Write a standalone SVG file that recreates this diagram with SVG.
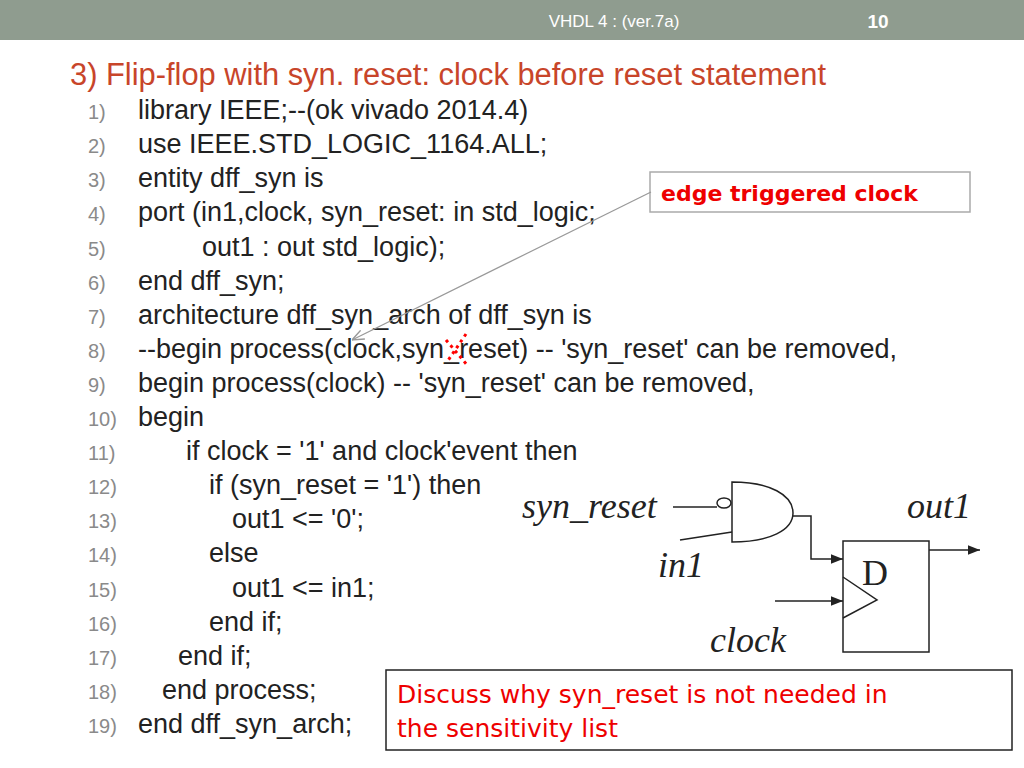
<svg xmlns="http://www.w3.org/2000/svg" width="1024" height="768" viewBox="0 0 1024 768">
<style>
.n{font-family:"Liberation Sans",Arial,sans-serif;font-size:20px;fill:#8a8a8a}
.c{font-family:"Liberation Sans Narrow","Liberation Sans",Arial,sans-serif;font-size:27px;fill:#222}
.t{font-family:"Liberation Serif","Times New Roman",serif;font-style:italic;font-size:36px;fill:#222}
.w{stroke:#222;stroke-width:1.5;fill:none}
</style>
<defs><marker id="ah" viewBox="0 0 10 10" refX="10" refY="5" markerWidth="8" markerHeight="8" orient="auto"><path d="M0,1 L10,5 L0,9 z" fill="#222"/></marker>
<marker id="ag" viewBox="0 0 10 10" refX="10" refY="5" markerWidth="10" markerHeight="10" orient="auto"><path d="M0,1 L10,5 L0,9" fill="none" stroke="#999" stroke-width="1.2"/></marker></defs>
<rect width="1024" height="768" fill="#fff"/>
<rect width="1024" height="40" fill="#8f9c8f"/>
<text x="614" y="27" text-anchor="middle" font-family="Liberation Sans,Arial,sans-serif" font-size="17" fill="#fff">VHDL 4 : (ver.7a)</text>
<text x="878" y="28" text-anchor="middle" font-family="Liberation Sans,Arial,sans-serif" font-size="19" font-weight="bold" fill="#fff">10</text>
<text x="70" y="85" font-family="Liberation Sans Narrow,Liberation Sans,Arial,sans-serif" font-size="31" fill="#c8452a" textLength="756" lengthAdjust="spacingAndGlyphs">3) Flip-flop with syn. reset: clock before reset statement</text>
<g class="n">
<text x="88" y="119">1)</text><text x="88" y="153">2)</text><text x="88" y="187">3)</text><text x="88" y="221">4)</text><text x="88" y="256">5)</text><text x="88" y="290">6)</text><text x="88" y="324">7)</text><text x="88" y="358">8)</text><text x="88" y="392">9)</text><text x="88" y="426">10)</text><text x="88" y="460">11)</text><text x="88" y="494">12)</text><text x="88" y="528">13)</text><text x="88" y="562">14)</text><text x="88" y="597">15)</text><text x="88" y="631">16)</text><text x="88" y="665">17)</text><text x="88" y="699">18)</text><text x="88" y="733">19)</text>
</g>
<g class="c">
<text x="138" y="119">library IEEE;--(ok vivado 2014.4)</text>
<text x="138" y="153">use IEEE.STD_LOGIC_1164.ALL;</text>
<text x="138" y="187">entity  dff_syn is</text>
<text x="138" y="221">port (in1,clock, syn_reset: in std_logic;</text>
<text x="202" y="256">out1 : out std_logic);</text>
<text x="138" y="290">end dff_syn;</text>
<text x="138" y="324">architecture dff_syn_arch of dff_syn is</text>
<text x="138" y="358">--begin process(clock,syn_reset) -- 'syn_reset' can be removed,</text>
<text x="138" y="392">begin process(clock) -- 'syn_reset' can be removed,</text>
<text x="138" y="426">begin</text>
<text x="186" y="460">if clock = '1' and clock'event then</text>
<text x="209" y="494">if (syn_reset = '1') then</text>
<text x="232" y="528">out1 &lt;= '0';</text>
<text x="209" y="562">else</text>
<text x="232" y="597">out1 &lt;= in1;</text>
<text x="209" y="631">end if;</text>
<text x="178" y="665">end if;</text>
<text x="162" y="699">end process;</text>
<text x="138" y="733">end dff_syn_arch;</text>
</g>
<g id="xmark" stroke="red" stroke-width="3" stroke-dasharray="3,4"><line x1="446" y1="340" x2="468" y2="366"/><line x1="466" y1="334" x2="447" y2="362"/></g>
<g id="callout">
<rect x="650" y="172" width="320" height="40" fill="#fff" stroke="#aaa" stroke-width="1.5"/>
<text x="661" y="201" font-family="DejaVu Sans,sans-serif" font-weight="bold" font-size="22" fill="#e00">edge triggered clock</text>
</g>
<g id="connectors">
<line x1="651" y1="192" x2="352" y2="340" stroke="#999" stroke-width="1.2" marker-end="url(#ag)"/>
<line class="w" x1="673" y1="507" x2="717" y2="507"/>
<line class="w" x1="680" y1="540" x2="732" y2="532"/>
<polyline class="w" points="793,516 811,516 811,559 843,559" marker-end="url(#ah)"/>
<line class="w" x1="775" y1="601" x2="843" y2="601" marker-end="url(#ah)"/>
<line class="w" x1="929" y1="550" x2="980" y2="550" marker-end="url(#ah)"/>
</g>
<g id="gate">
<ellipse class="w" cx="724" cy="503" rx="7" ry="5"/>
<path class="w" d="M732,482 C770,482 793,495 793,513 C793,530 770,542 732,542 Z"/>
</g>
<g id="dff">
<rect class="w" x="843" y="541" width="86" height="111"/>
<polyline class="w" points="843,577 877,600 843,618"/>
<text x="862" y="585" font-family="Liberation Serif,serif" font-size="36" fill="#222">D</text>
</g>
<text class="t" x="522" y="518">syn_reset</text>
<text class="t" x="907" y="518">out1</text>
<text class="t" x="658" y="577">in1</text>
<text class="t" x="710" y="652">clock</text>
<g id="note">
<rect x="386" y="670" width="626" height="80" fill="#fff" stroke="#222" stroke-width="1.5"/>
<text font-family="DejaVu Sans,sans-serif" font-size="25" fill="#e00"><tspan x="397" y="703">Discuss why syn_reset is not needed in</tspan><tspan x="397" y="737">the sensitivity list</tspan></text>
</g>
</svg>
